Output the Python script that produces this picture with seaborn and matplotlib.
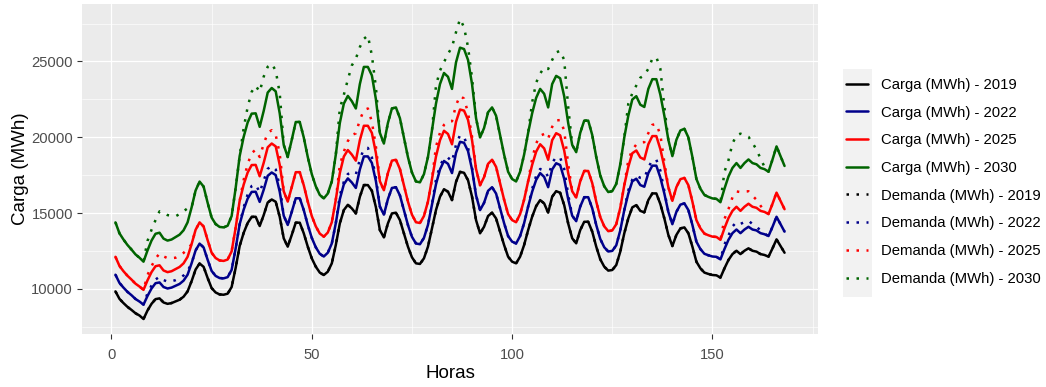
import matplotlib
matplotlib.use("Agg")
import matplotlib.pyplot as plt
from matplotlib.patches import Rectangle
import pandas as pd
import seaborn as sns

# Hourly values for one week (hours 1..168)
horas = list(range(1, 169))

carga_2019 = [
    9840, 9350, 9070, 8820, 8620, 8400, 8250, 8020, 8580, 9020, 9330, 9380,
    9110, 9020, 9070, 9180, 9290, 9490, 9840, 10510, 11280, 11680, 11460, 10730,
    10060, 9770, 9640, 9620, 9690, 10130, 11390, 12830, 13700, 14350, 14750, 14760,
    14150, 14870, 15700, 15900, 15750, 14760, 13340, 12790, 13560, 14370, 14370, 13670,
    12790, 12020, 11470, 11080, 10920, 11140, 11690, 12900, 14320, 15200, 15550, 15310,
    14980, 16080, 16850, 16850, 16470, 15400, 13880, 13400, 14320, 14980, 15030, 14540,
    13670, 12790, 12090, 11690, 11650, 12020, 12790, 13990, 15200, 16080, 16580, 16410,
    15860, 17060, 17720, 17660, 17170, 16080, 14540, 13670, 14100, 14810, 15030, 14650,
    13780, 12900, 12130, 11800, 11690, 12130, 12900, 13880, 14760, 15460, 15860, 15640,
    15030, 16080, 16450, 16340, 15530, 14320, 13340, 13010, 13880, 14430, 14430, 13780,
    12790, 11960, 11470, 11210, 11250, 11580, 12460, 13670, 14650, 15380, 15530, 15150,
    15050, 15860, 16300, 16300, 15600, 14650, 13560, 12830, 13560, 13990, 14060, 13670,
    12790, 11800, 11360, 11080, 10990, 10920, 10900, 10750, 11360, 11910, 12300, 12520,
    12300, 12520, 12680, 12520, 12460, 12300, 12240, 12130, 12680, 13270, 12830, 12390,
]

carga_2022 = [
    10940, 10400, 10090, 9810, 9590, 9340, 9170, 8970, 9540, 10030, 10380, 10430,
    10130, 10030, 10090, 10210, 10330, 10550, 10940, 11690, 12540, 12990, 12740, 11930,
    11190, 10860, 10720, 10700, 10780, 11260, 12670, 14270, 15230, 15960, 16400, 16410,
    15740, 16540, 17460, 17680, 17510, 16410, 14830, 14220, 15080, 15980, 15980, 15200,
    14220, 13370, 12750, 12320, 12140, 12390, 13000, 14340, 15920, 16900, 17290, 17020,
    16660, 17880, 18740, 18740, 18310, 17120, 15430, 14900, 15920, 16660, 16710, 16170,
    15200, 14220, 13440, 13000, 12950, 13370, 14220, 15560, 16900, 17880, 18440, 18250,
    17640, 18970, 19700, 19640, 19090, 17880, 16170, 15200, 15680, 16470, 16710, 16290,
    15320, 14340, 13490, 13120, 13000, 13490, 14340, 15430, 16410, 17190, 17640, 17390,
    16710, 17880, 18290, 18170, 17270, 15920, 14830, 14470, 15430, 16050, 16050, 15320,
    14220, 13300, 12750, 12470, 12510, 12880, 13860, 15200, 16290, 17100, 17270, 16850,
    16740, 17640, 18130, 18130, 17350, 16290, 15080, 14270, 15080, 15560, 15640, 15200,
    14220, 13120, 12630, 12320, 12220, 12140, 12120, 11950, 12630, 13240, 13680, 13920,
    13680, 13920, 14100, 13920, 13860, 13680, 13610, 13490, 14100, 14760, 14270, 13780,
]

carga_2025 = [
    12120, 11520, 11170, 10870, 10620, 10350, 10160, 9940, 10570, 11110, 11500, 11560,
    11220, 11110, 11170, 11310, 11450, 11690, 12120, 12950, 13900, 14390, 14120, 13220,
    12390, 12040, 11880, 11850, 11940, 12480, 14030, 15810, 16880, 17680, 18170, 18180,
    17430, 18320, 19340, 19590, 19400, 18180, 16440, 15760, 16710, 17700, 17700, 16840,
    15760, 14810, 14130, 13650, 13450, 13720, 14400, 15890, 17640, 18730, 19160, 18860,
    18460, 19810, 20760, 20760, 20290, 18970, 17100, 16510, 17640, 18460, 18520, 17910,
    16840, 15760, 14900, 14400, 14350, 14810, 15760, 17240, 18730, 19810, 20430, 20220,
    19540, 21020, 21830, 21760, 21150, 19810, 17910, 16840, 17370, 18250, 18520, 18050,
    16980, 15890, 14940, 14540, 14400, 14940, 15890, 17100, 18180, 19050, 19540, 19270,
    18520, 19810, 20270, 20130, 19130, 17640, 16440, 16030, 17100, 17780, 17780, 16980,
    15760, 14740, 14130, 13810, 13860, 14270, 15350, 16840, 18050, 18950, 19130, 18670,
    18540, 19540, 20080, 20080, 19220, 18050, 16710, 15810, 16710, 17240, 17320, 16840,
    15760, 14540, 14000, 13650, 13540, 13450, 13430, 13240, 14000, 14670, 15150, 15420,
    15150, 15420, 15620, 15420, 15350, 15150, 15080, 14940, 15620, 16350, 15810, 15260,
]

carga_2030 = [
    14390, 13670, 13260, 12900, 12600, 12280, 12060, 11800, 12540, 13190, 13640, 13710,
    13320, 13190, 13260, 13420, 13580, 13870, 14390, 15370, 16490, 17080, 16750, 15690,
    14710, 14280, 14090, 14060, 14170, 14810, 16650, 18760, 20030, 20980, 21560, 21580,
    20690, 21740, 22950, 23250, 23030, 21580, 19500, 18700, 19830, 21010, 21010, 19990,
    18700, 17570, 16770, 16200, 15970, 16290, 17090, 18860, 20940, 22220, 22730, 22380,
    21900, 23510, 24640, 24640, 24080, 22520, 20290, 19590, 20940, 21900, 21970, 21260,
    19990, 18700, 17680, 17090, 17030, 17570, 18700, 20450, 22220, 23510, 24240, 23990,
    23190, 24940, 25910, 25820, 25100, 23510, 21260, 19990, 20610, 21650, 21970, 21420,
    20150, 18860, 17730, 17250, 17090, 17730, 18860, 20290, 21580, 22600, 23190, 22870,
    21970, 23510, 24050, 23890, 22710, 20940, 19500, 19020, 20290, 21100, 21100, 20150,
    18700, 17490, 16770, 16390, 16450, 16930, 18220, 19990, 21420, 22490, 22710, 22150,
    22000, 23190, 23830, 23830, 22810, 21420, 19830, 18760, 19830, 20450, 20560, 19990,
    18700, 17250, 16610, 16200, 16070, 15970, 15940, 15720, 16610, 17410, 17980, 18300,
    17980, 18300, 18540, 18300, 18220, 17980, 17900, 17730, 18540, 19400, 18760, 18110,
]

# 2019 demand coincides with the 2019 load
demanda_2019 = list(carga_2019)

demanda_2022 = [
    10940, 10400, 10090, 9810, 9590, 9340, 9170, 8970, 9710, 10220, 10620, 10810,
    10590, 10480, 10510, 10580, 10700, 10890, 11190, 11690, 12540, 12990, 12740, 11930,
    11190, 10860, 10720, 10700, 10780, 11260, 12670, 14270, 15380, 16240, 16790, 16900,
    16360, 17150, 17920, 18110, 17880, 16770, 14830, 14220, 15080, 15980, 15980, 15200,
    14220, 13370, 12750, 12320, 12140, 12390, 13000, 14340, 16180, 17060, 17580, 17660,
    17550, 18540, 19240, 19300, 18670, 17330, 15430, 14900, 15920, 16660, 16710, 16170,
    15200, 14220, 13440, 13000, 12950, 13370, 14220, 15560, 17220, 18120, 18630, 18660,
    18390, 19510, 20140, 20030, 19320, 17990, 16170, 15200, 15680, 16470, 16710, 16290,
    15320, 14340, 13490, 13120, 13000, 13490, 14340, 15430, 16600, 17460, 17910, 17860,
    17390, 18310, 18710, 18660, 17920, 16210, 14830, 14470, 15430, 16050, 16050, 15320,
    14220, 13300, 12750, 12470, 12510, 12880, 13860, 15200, 16500, 17210, 17460, 17330,
    17300, 18000, 18500, 18520, 17810, 16450, 15080, 14270, 15080, 15560, 15640, 15200,
    14220, 13120, 12630, 12320, 12220, 12140, 12120, 11950, 12930, 13530, 14120, 14410,
    14290, 14410, 14500, 14280, 14120, 13850, 13650, 13490, 14100, 14760, 14270, 13780,
]

demanda_2025 = [
    12120, 11520, 11170, 10870, 10620, 10350, 10160, 9940, 10920, 11500, 12000, 12340,
    12150, 12030, 12030, 12060, 12200, 12380, 12630, 12950, 13900, 14390, 14120, 13220,
    12390, 12040, 11880, 11850, 11940, 12480, 14030, 15810, 17190, 18240, 18960, 19180,
    18700, 19560, 20280, 20470, 20150, 18910, 16440, 15760, 16710, 17700, 17700, 16840,
    15760, 14810, 14130, 13650, 13450, 13720, 14400, 15890, 18170, 19050, 19750, 20160,
    20260, 21150, 21780, 21900, 21020, 19400, 17100, 16510, 17640, 18460, 18520, 17910,
    16840, 15760, 14900, 14400, 14350, 14810, 15760, 17240, 19380, 20300, 20820, 21050,
    21060, 22120, 22730, 22550, 21620, 20030, 17910, 16840, 17370, 18250, 18520, 18050,
    16980, 15890, 14940, 14540, 14400, 14940, 15890, 17100, 18580, 19600, 20100, 20220,
    19910, 20690, 21120, 21130, 20450, 18220, 16440, 16030, 17100, 17780, 17780, 16980,
    15760, 14740, 14130, 13810, 13860, 14270, 15350, 16840, 18480, 19180, 19520, 19650,
    19680, 20270, 20820, 20880, 20160, 18370, 16710, 15810, 16710, 17240, 17320, 16840,
    15760, 14540, 14000, 13650, 13540, 13450, 13430, 13240, 14610, 15260, 16040, 16430,
    16390, 16430, 16440, 16150, 15880, 15490, 15160, 14940, 15620, 16350, 15810, 15260,
]

demanda_2030 = [
    14390, 13670, 13260, 12900, 12600, 12280, 12060, 11800, 13170, 13900, 14540, 15120,
    15010, 14870, 14830, 14790, 14940, 15120, 15320, 15370, 16490, 17080, 16750, 15690,
    14710, 14280, 14090, 14060, 14170, 14810, 16650, 18760, 20600, 22000, 23000, 23400,
    23000, 24000, 24650, 24850, 24400, 22900, 19500, 18700, 19830, 21010, 21010, 19990,
    18700, 17570, 16770, 16200, 15970, 16290, 17090, 18860, 21900, 22800, 23800, 24740,
    25180, 25950, 26490, 26710, 25400, 23300, 20290, 19590, 20940, 21900, 21970, 21260,
    19990, 18700, 17680, 17090, 17030, 17570, 18700, 20450, 23400, 24400, 24950, 25500,
    25950, 26930, 27800, 27260, 25950, 23900, 21260, 19990, 20610, 21650, 21970, 21420,
    20150, 18860, 17730, 17250, 17090, 17730, 18860, 20290, 22300, 23600, 24200, 24600,
    24500, 25100, 25600, 25700, 25100, 22000, 19500, 19020, 20290, 21100, 21100, 20150,
    18700, 17490, 16770, 16390, 16450, 16930, 18220, 19990, 22200, 22900, 23420, 23930,
    24080, 24520, 25180, 25290, 24520, 22000, 19830, 18760, 19830, 20450, 20560, 19990,
    18700, 17250, 16610, 16200, 16070, 15970, 15940, 15720, 17720, 18490, 19590, 20130,
    20240, 20130, 20030, 19630, 19190, 18600, 18050, 17730, 18540, 19400, 18760, 18110,
]

nombres = [
    "Carga (MWh) - 2019", "Carga (MWh) - 2022",
    "Carga (MWh) - 2025", "Carga (MWh) - 2030",
    "Demanda (MWh) - 2019", "Demanda (MWh) - 2022",
    "Demanda (MWh) - 2025", "Demanda (MWh) - 2030",
]
valores = [carga_2019, carga_2022, carga_2025, carga_2030,
           demanda_2019, demanda_2022, demanda_2025, demanda_2030]
colores_base = ["black", "#00008B", "#FF0000", "#006400"]

colores = {n: colores_base[i % 4] for i, n in enumerate(nombres)}
trazos = {n: ("" if n.startswith("Carga") else (1, 3)) for n in nombres}

df = pd.concat(
    [pd.DataFrame({"Horas": horas, "valor": v, "serie": n}) for n, v in zip(nombres, valores)],
    ignore_index=True,
)

sns.set_theme(style="darkgrid")
plt.rcParams["font.family"] = ["Liberation Sans", "DejaVu Sans"]

W, H = 1046, 387
fig = plt.figure(figsize=(W / 100, H / 100), dpi=100)
fig.patch.set_facecolor("white")
px = lambda x0, y0, x1, y1: [x0 / W, 1 - y1 / H, (x1 - x0) / W, (y1 - y0) / H]
ax = fig.add_axes(px(82, 4, 818, 334))

sns.lineplot(
    data=df, x="Horas", y="valor", hue="serie", style="serie",
    hue_order=nombres, style_order=nombres, palette=colores, dashes=trazos,
    estimator=None, errorbar=None, linewidth=1.8, ax=ax, legend=True,
)
for ln in ax.get_lines():
    ln.set_dash_capstyle("butt")
    ln.set_solid_joinstyle("round")

# ggplot-like 5% expansion of the data range
xmin, xmax = min(horas), max(horas)
ymin, ymax = df["valor"].min(), df["valor"].max()
ax.set_xlim(xmin - 0.05 * (xmax - xmin), xmax + 0.05 * (xmax - xmin))
ax.set_ylim(ymin - 0.05 * (ymax - ymin), ymax + 0.05 * (ymax - ymin))

ax.set_facecolor("#EBEBEB")
ax.set_xticks([0, 50, 100, 150])
ax.set_xticks([25, 75, 125, 175], minor=True)
ax.set_yticks([10000, 15000, 20000, 25000])
ax.set_yticks([7500, 12500, 17500, 22500, 27500], minor=True)
ax.grid(which="major", color="white", linewidth=0.9)
ax.grid(which="minor", color="white", linewidth=0.45)
ax.set_axisbelow(True)
for s in ax.spines.values():
    s.set_visible(False)
ax.tick_params(which="major", length=3.4, width=0.8, color="#333333",
               labelcolor="#4D4D4D", labelsize=10.6, pad=3, bottom=True, left=True)
ax.tick_params(axis="x", which="major", pad=6.5)
ax.tick_params(which="minor", length=0)

ax.set_xlabel("Horas", fontsize=13.5, color="black")
ax.set_ylabel("Carga (MWh)", fontsize=13.5, color="black")
ax.xaxis.set_label_coords(0.5, -(374 - 334) / 330)
ax.xaxis.label.set_va("center")
ax.yaxis.set_label_coords(-(82 - 20) / 736, 0.5)
ax.yaxis.label.set_va("center")

# grey key column behind the legend symbols
fig.add_artist(Rectangle((843 / W, 1 - 297 / H), 29 / W, 228 / H,
                         transform=fig.transFigure, facecolor="#F2F2F2",
                         edgecolor="none", zorder=-1))

sns.move_legend(
    ax, "upper left", bbox_to_anchor=(846 / W, 1 - 78 / H),
    bbox_transform=fig.transFigure, title=None, frameon=False,
    fontsize=10.7, handlelength=1.5, handletextpad=0.85,
    labelspacing=0.92, borderpad=0, borderaxespad=0,
)
leg = ax.get_legend()
for t in leg.get_texts():
    t.set_color("black")

fig.savefig("out.png", dpi=100)
